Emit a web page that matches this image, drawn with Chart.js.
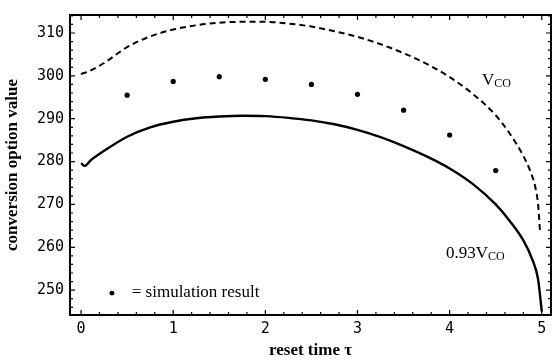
<!doctype html>
<html lang="en">
  <head>
    <meta charset="utf-8">
    <title>Conversion option value vs reset time</title>
    <script src="https://cdn.jsdelivr.net/npm/chart.js"></script>
    <style>
      body { margin: 0; background: #fff; }
    </style>
  </head>
  <body>
    <canvas id="resetChart" width="555" height="361"></canvas>
    <script>
      // upper curve V_CO (dashed)
      let tauUpper = [0, 0.1, 0.25, 0.5, 0.75, 1.0, 1.25, 1.5, 1.75, 2.0, 2.25, 2.5, 2.75, 3.0,
                      3.25, 3.5, 3.75, 4.0, 4.25, 4.5, 4.65, 4.8, 4.88, 4.93, 4.96, 4.98];
      let vcoUpper = [300.4, 301.2, 303.0, 306.7, 309.2, 310.8, 311.8, 312.4, 312.6, 312.6, 312.2, 311.5, 310.4, 309.1,
                      307.4, 305.3, 302.8, 299.7, 295.8, 290.8, 286.6, 281.3, 277.5, 274.0, 270.0, 264.0];

      // lower curve 0.93 V_CO (solid)
      let tauLower = [0, 0.04, 0.1, 0.25, 0.5, 0.75, 1.0, 1.25, 1.5, 1.75, 2.0, 2.25, 2.5, 2.75, 3.0,
                      3.25, 3.5, 3.75, 4.0, 4.25, 4.5, 4.65, 4.8, 4.9, 4.96, 5.0];
      let vcoLower = [279.6, 279.0, 280.2, 282.5, 285.8, 288.0, 289.3, 290.1, 290.5, 290.7, 290.6, 290.2, 289.6, 288.7, 287.4,
                      285.7, 283.6, 281.2, 278.4, 274.8, 270.0, 266.2, 261.6, 257.0, 252.5, 245.0];

      // simulation result (dots)
      let tauSim = [0.5, 1.0, 1.5, 2.0, 2.5, 3.0, 3.5, 4.0, 4.5];
      let simResult = [295.5, 298.7, 299.8, 299.2, 298.0, 295.7, 292.0, 286.2, 277.9];

      let xTicks = [0, 1, 2, 3, 4, 5];
      let yTicks = [250, 260, 270, 280, 290, 300, 310];

      function toPoints(xs, ys) {
        return xs.map(function(x, i) { return {x: x, y: ys[i]}; });
      }

      const tickFont = {family: '"DejaVu Sans Mono", monospace', size: 15};
      const serif = '"Liberation Serif", "Times New Roman", serif';

      // frame with inward ticks on all four sides, like the original
      const framePlugin = {
        id: 'frame',
        afterDatasetsDraw(chart) {
          const ctx = chart.ctx;
          const a = chart.chartArea;
          const x = chart.scales.x, y = chart.scales.y;
          ctx.save();
          ctx.strokeStyle = '#000';
          ctx.lineWidth = 2;
          ctx.strokeRect(a.left, a.top, a.right - a.left, a.bottom - a.top);
          ctx.lineWidth = 1.2;
          ctx.beginPath();
          for (let i = 0; i <= 25; i++) {
            const v = i * 0.2;
            const px = x.getPixelForValue(v);
            const len = (i % 5 === 0) ? 5 : 3;
            ctx.moveTo(px, a.bottom); ctx.lineTo(px, a.bottom - len);
            ctx.moveTo(px, a.top); ctx.lineTo(px, a.top + len);
          }
          for (let v = 246; v <= 314; v += 2) {
            const py = y.getPixelForValue(v);
            const len = (v % 10 === 0) ? 5 : 3;
            ctx.moveTo(a.left, py); ctx.lineTo(a.left + len, py);
            ctx.moveTo(a.right, py); ctx.lineTo(a.right - len, py);
          }
          ctx.stroke();
          ctx.restore();
        },
        afterDraw(chart) {
          const ctx = chart.ctx;
          const x = chart.scales.x, y = chart.scales.y;
          ctx.save();
          ctx.fillStyle = '#000';
          ctx.textBaseline = 'alphabetic';
          ctx.textAlign = 'left';

          function vco(label, tx, ty) {
            let px = x.getPixelForValue(tx), py = y.getPixelForValue(ty);
            ctx.font = '17px ' + serif;
            ctx.fillText(label, px, py);
            px += ctx.measureText(label).width;
            ctx.font = '12px ' + serif;
            ctx.fillText('CO', px, py + 2);
          }
          vco('V', 4.35, 297.8);
          vco('0.93V', 3.96, 257.6);

          // legend for the dots
          ctx.beginPath();
          ctx.arc(x.getPixelForValue(0.335), y.getPixelForValue(249.3), 2.4, 0, Math.PI * 2);
          ctx.fill();
          ctx.font = '17px ' + serif;
          ctx.fillText('= simulation result', x.getPixelForValue(0.55), y.getPixelForValue(248.4));
          ctx.restore();
        }
      };

      const chartConfig = {
        type: 'scatter',
        data: {
          datasets: [{
            label: 'V_CO',
            data: toPoints(tauUpper, vcoUpper),
            showLine: true,
            borderColor: '#000',
            borderWidth: 2,
            borderDash: [6, 4],
            pointRadius: 0,
            cubicInterpolationMode: 'monotone'
          }, {
            label: '0.93 V_CO',
            data: toPoints(tauLower, vcoLower),
            showLine: true,
            borderColor: '#000',
            borderWidth: 2.4,
            pointRadius: 0,
            cubicInterpolationMode: 'monotone'
          }, {
            label: 'simulation result',
            data: toPoints(tauSim, simResult),
            showLine: false,
            pointRadius: 2.6,
            pointBackgroundColor: '#000',
            pointBorderColor: '#000',
            pointBorderWidth: 0
          }]
        },
        options: {
          responsive: false,
          animation: false,
          layout: {padding: {left: 0, right: 2, top: 12, bottom: 0}},
          plugins: {
            legend: {display: false},
            tooltip: {enabled: false}
          },
          scales: {
            x: {
              type: 'linear',
              min: -0.12,
              max: 5.1,
              afterBuildTicks: function(scale) { scale.ticks = xTicks.map(function(v) { return {value: v}; }); },
              afterFit: function(scale) { scale.height = 46; },
              grid: {display: false, drawTicks: false},
              border: {display: false},
              ticks: {color: '#000', font: tickFont, padding: 5, maxRotation: 0},
              title: {
                display: true,
                text: 'reset time τ',
                color: '#000',
                font: {family: serif, size: 17, weight: 'bold'},
                padding: {top: 0, bottom: 0}
              }
            },
            y: {
              type: 'linear',
              min: 244.2,
              max: 314.2,
              afterBuildTicks: function(scale) { scale.ticks = yTicks.map(function(v) { return {value: v}; }); },
              afterFit: function(scale) { scale.width = 70; },
              grid: {display: false, drawTicks: false},
              border: {display: false},
              ticks: {color: '#000', font: tickFont, padding: 6},
              title: {
                display: true,
                text: 'conversion option value',
                color: '#000',
                font: {family: serif, size: 17, weight: 'bold'},
                padding: {top: 2, bottom: 0}
              }
            }
          }
        },
        plugins: [framePlugin]
      };

      var ctx = document.getElementById('resetChart').getContext('2d');
      var myChart = new Chart(ctx, chartConfig);
    </script>
  </body>
</html>
